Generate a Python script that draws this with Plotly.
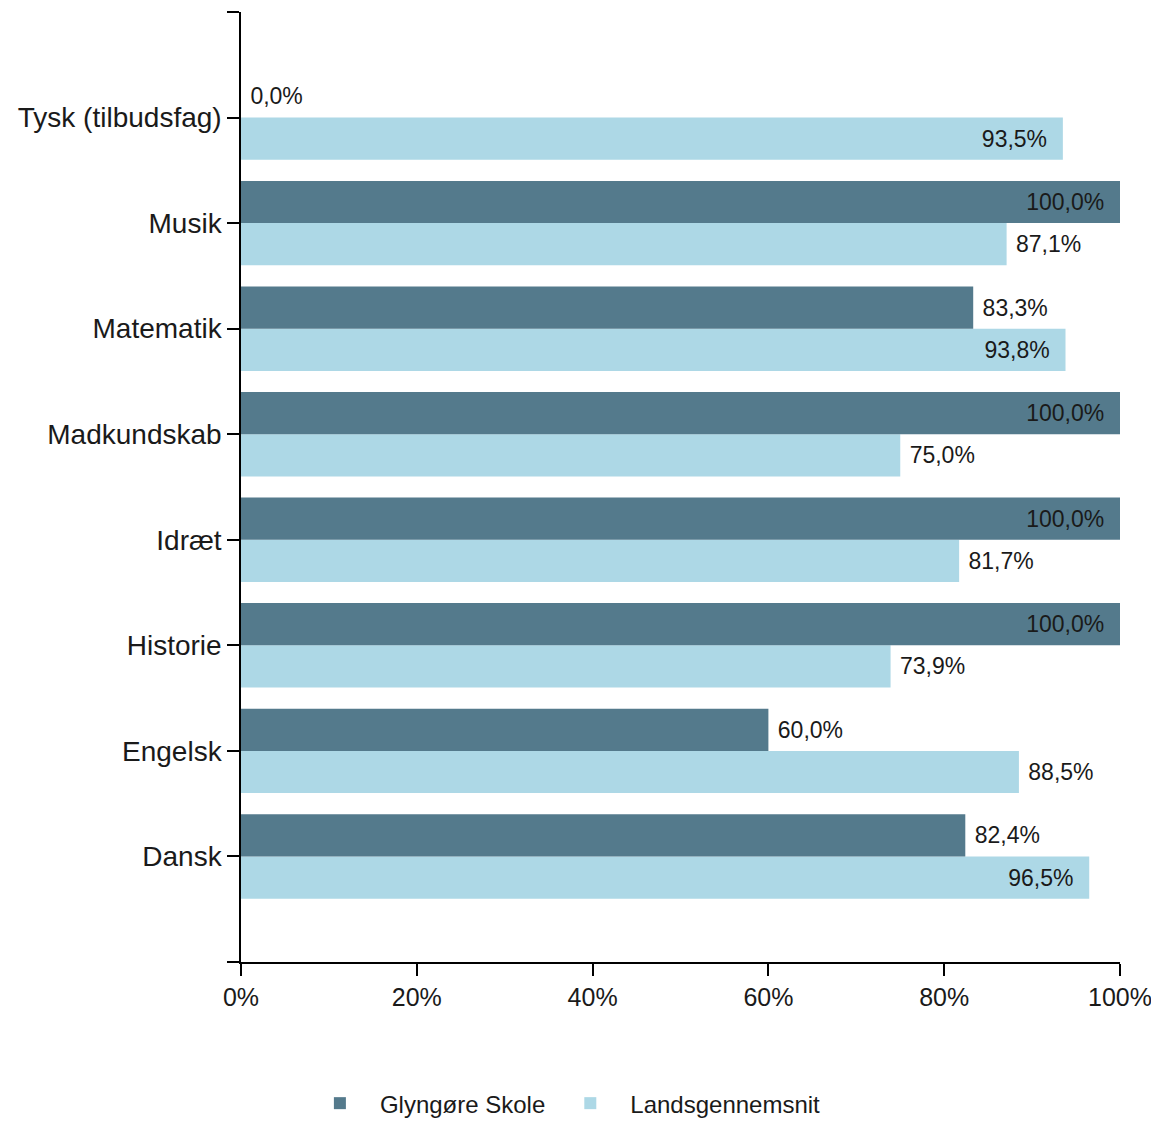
import plotly.graph_objects as go

categories = ["Dansk", "Engelsk", "Historie", "Idræt", "Madkundskab", "Matematik", "Musik", "Tysk (tilbudsfag)"]
skole = [82.4, 60.0, 100.0, 100.0, 100.0, 83.3, 100.0, 0.0]
lands = [96.5, 88.5, 73.9, 81.7, 75.0, 93.8, 87.1, 93.5]
x_ticks = [0, 20, 40, 60, 80, 100]
x_tick_labels = ["0%", "20%", "40%", "60%", "80%", "100%"]

ypos = list(range(len(categories)))
FONT = "Liberation Sans"
NB = "\u00a0"

def positions(vals, thr):
    return ["inside" if v >= thr else "outside" for v in vals]

def templates(vals, thr):
    return [("%{x:.1f}%" + NB + NB) if v >= thr else (NB + "%{x:.1f}%") for v in vals]

fig = go.Figure()
fig.add_trace(go.Bar(
    y=ypos, x=lands, orientation="h", name="Landsgennemsnit",
    marker=dict(color="#add8e6", line=dict(width=0)),
    texttemplate=templates(lands, 90), textposition=positions(lands, 90),
    insidetextanchor="end", constraintext="none", cliponaxis=False,
    textfont=dict(size=23, color="#1a1a1a", family=FONT),
    legendrank=2,
))
fig.add_trace(go.Bar(
    y=ypos, x=skole, orientation="h", name="Glyngøre Skole",
    marker=dict(color="#547a8c", line=dict(width=0)),
    texttemplate=templates(skole, 90), textposition=positions(skole, 90),
    insidetextanchor="end", constraintext="none", cliponaxis=False,
    textfont=dict(size=23, color="#1a1a1a", family=FONT),
    legendrank=1,
))

fig.update_layout(
    width=1159, height=1122,
    margin=dict(l=233, r=47, t=4, b=164),
    paper_bgcolor="white", plot_bgcolor="white",
    barmode="group", bargap=0.2, bargroupgap=0.0,
    separators=", ",
    font=dict(family=FONT, color="#1a1a1a"),
    showlegend=True,
    legend=dict(orientation="h", x=0.067, xanchor="left", y=-0.149, yanchor="middle",
                font=dict(size=24), itemwidth=70, traceorder="normal"),
    xaxis=dict(range=[0, 100], tickvals=x_ticks, ticktext=x_tick_labels,
               showgrid=False, zeroline=False, showline=True, linecolor="black", linewidth=1.5,
               ticks="outside", ticklen=12, tickwidth=1.5, tickcolor="black",
               tickfont=dict(size=25)),
    yaxis=dict(range=[-1, len(categories)],
               tickvals=[-1] + ypos + [len(categories)],
               ticktext=[""] + categories + [""],
               showgrid=False, zeroline=False, showline=True, linecolor="black", linewidth=1.5,
               ticks="outside", ticklen=12, tickwidth=1.5, tickcolor="black",
               tickfont=dict(size=28)),
)

fig.write_html("out.html")
